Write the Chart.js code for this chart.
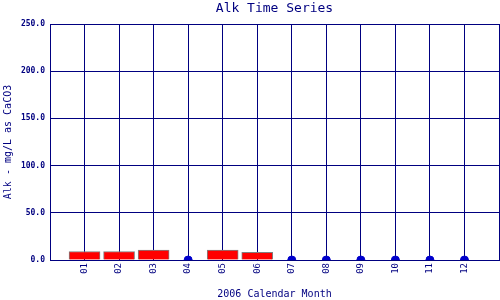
<!DOCTYPE html>
<html lang="en">

<head>
  <meta charset="UTF-8" />
  <title>Alk Time Series</title>
  <script src="https://cdn.jsdelivr.net/npm/chart.js"></script>
  <style>
    body { margin: 0; background: #fff; }
    #wrap { width: 500px; height: 300px; }
  </style>
</head>

<body>
  <div id="wrap"><canvas id="myChart"></canvas></div>

  <script>
    /* chart data */
    const months = ["01", "02", "03", "04", "05", "06", "07", "08", "09", "10", "11", "12"];
    // Alk values in mg/L as CaCO3, null = no sample that month
    const alk = [9, 9, 10.5, null, 10.5, 8, null, null, null, null, null, null];
    const yTicks = [0, 50, 100, 150, 200, 250];

    const navy = "#000080";
    const mono = "'DejaVu Sans Mono', monospace";

    // months without a sample get a marker on the zero line
    const barData = [];
    const missingData = [];
    months.forEach((m, i) => {
      if (alk[i] === null) missingData.push({ x: i + 1, y: 0 });
      else barData.push({ x: i + 1, y: alk[i] });
    });

    var ctx = document.getElementById("myChart").getContext("2d");
    var chart = new Chart(ctx, {
      type: "bar",
      data: {
        datasets: [
          {
            label: "Alk",
            data: barData,
            xAxisID: "x",
            yAxisID: "y",
            backgroundColor: "#ff0000",
            borderColor: "#808080",
            borderWidth: 1,
            barThickness: 31,
            order: 2,
          },
          {
            type: "scatter",
            label: "No data",
            data: missingData,
            xAxisID: "x",
            yAxisID: "y",
            backgroundColor: "#0000cc",
            borderColor: "#0000cc",
            pointRadius: 4,
            order: 1,
          },
        ],
      },
      options: {
        animation: false,
        responsive: true,
        maintainAspectRatio: false,
        layout: { autoPadding: false, padding: { left: 0, right: 1, top: 0, bottom: 0 } },
        plugins: {
          legend: { display: false },
          tooltip: { enabled: false },
          title: { display: false },
        },
        scales: {
          x: {
            type: "linear",
            min: 0,
            max: months.length + 1,
            offset: false,
            afterBuildTicks: (scale) => {
              scale.ticks = [];
              for (let i = 0; i <= months.length + 1; i++) scale.ticks.push({ value: i });
            },
            afterFit: (scale) => {
              scale.height = 40;
              scale.paddingLeft = 0;
              scale.paddingRight = 0;
            },
            grid: { color: navy, lineWidth: 1, drawTicks: false, offset: false },
            border: { color: navy, width: 1 },
            ticks: {
              autoSkip: false,
              minRotation: 90,
              maxRotation: 90,
              padding: 3,
              color: navy,
              font: { family: mono, size: 9 },
              callback: (v) => months[v - 1] || "",
            },
            title: {
              display: true,
              text: "2006 Calendar Month",
              color: navy,
              font: { family: mono, size: 10 },
              padding: { top: 0, bottom: 0 },
            },
          },
          // top axis only carries the chart title, centred over the plot
          xTop: {
            type: "linear",
            position: "top",
            min: 0,
            max: months.length + 1,
            afterFit: (scale) => {
              scale.height = 24;
              scale.paddingLeft = 0;
              scale.paddingRight = 0;
            },
            grid: { display: false, drawTicks: false },
            border: { display: false },
            ticks: { display: false },
            title: {
              display: true,
              text: "Alk Time Series",
              color: navy,
              font: { family: mono, size: 13 },
              padding: { top: 1, bottom: 0 },
            },
          },
          y: {
            min: 0,
            max: 250,
            afterBuildTicks: (scale) => {
              scale.ticks = yTicks.map((v) => ({ value: v }));
            },
            afterFit: (scale) => {
              scale.width = 50;
              scale.paddingTop = 0;
              scale.paddingBottom = 0;
            },
            grid: { color: navy, lineWidth: 1, drawTicks: false },
            border: { color: navy, width: 1 },
            ticks: {
              padding: 5,
              color: navy,
              font: { family: mono, size: 8, weight: "bold" },
              callback: (v) => v.toFixed(1),
            },
            title: {
              display: true,
              text: "Alk - mg/L as CaCO3",
              color: navy,
              font: { family: mono, size: 10 },
              padding: { top: 2, bottom: 0 },
            },
          },
        },
      },
    });
  </script>
</body>

</html>
